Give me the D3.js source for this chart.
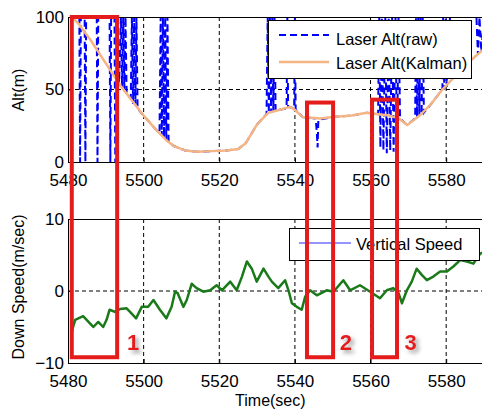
<!DOCTYPE html>
<html>
<head>
<meta charset="utf-8">
<script src="https://cdn.jsdelivr.net/npm/d3@7"></script>
<style>
  body { margin: 0; background: #fff; }
  text { font-family: 'Liberation Sans', Arial, sans-serif; }
</style>
</head>
<body>
<div id="svg_container"></div>
<script>
var width = 482
var height = 409

// x ticks (sec)
var timeTicks = [5480, 5500, 5520, 5540, 5560, 5580]
var altTicks = [0, 50, 100]
var speedTicks = [-10, 0, 10]

// laser altitude, raw reading (m)
var rawTime = [5480, 5483.0, 5483.2, 5483.4, 5484.4, 5484.6, 5484.8, 5487.6, 5487.8, 5488.0,
  5491.0, 5491.2, 5491.4, 5492.3, 5492.5, 5492.7, 5493.5, 5494.0, 5494.3, 5494.6,
  5494.9, 5495.2, 5495.5, 5496.0, 5496.6, 5496.9, 5497.2, 5497.5, 5497.8, 5498.1,
  5498.4, 5500, 5503, 5504.2, 5504.5, 5504.8, 5505.1, 5505.4, 5505.7, 5506.0,
  5506.3, 5506.6, 5508, 5511, 5514, 5518, 5522, 5525, 5527, 5530,
  5532.5, 5532.8, 5533.1, 5533.4, 5533.7, 5534.0, 5534.3, 5534.6, 5534.9, 5536,
  5537.8, 5538.0, 5538.2, 5539.8, 5540.0, 5540.2, 5542, 5545.5, 5545.8, 5546.0,
  5546.2, 5550, 5555, 5559, 5562, 5562.3, 5562.6, 5563.0, 5563.4, 5563.9,
  5564.3, 5564.8, 5565.2, 5565.7, 5566.1, 5566.6, 5567.0, 5567.4, 5567.8, 5569.7,
  5571.8, 5572.0, 5572.3, 5572.6, 5572.9, 5573.2, 5573.5, 5573.8, 5574.1, 5576,
  5579, 5579.2, 5579.5, 5579.9, 5580.2, 5581, 5588, 5588.4, 5588.8, 5589.3, 5590]
var rawAlt = [100, 100, 0, 100, 100, 0, 100, 100, 0, 100,
  100, 0, 100, 100, 0, 100, 54, 100, 51, 100,
  50, 100, 48, 46, 44, 100, 40, 100, 39, 100,
  37, 32, 23, 20, 100, 18, 100, 17, 100, 15,
  100, 14, 11, 8, 7, 7.5, 8, 9, 13, 26,
  33, 100, 34, 100, 34, 100, 35, 100, 35, 36,
  37, 100, 38, 37, 100, 36, 31, 30, 20, 10,
  29, 31, 32, 34, 33, 100, 10, 100, 8, 100,
  6, 100, 8, 100, 7, 100, 9, 100, 30, 25.5,
  30, 100, 31, 100, 32, 100, 33, 100, 34, 40,
  50, 100, 50, 100, 52, 100, 100, 74, 100, 76, 100]

// laser altitude, Kalman filtered (m)
var kalTime = [5481, 5482.6, 5486, 5490, 5493.8, 5497, 5500, 5503, 5506, 5508,
  5511, 5514, 5518, 5522, 5525, 5527, 5530, 5533, 5536, 5538.7,
  5540, 5542, 5546.7, 5550, 5555, 5559, 5562, 5565, 5567.5, 5569.7,
  5573, 5576, 5579, 5583, 5586, 5590]
var kalAlt = [100, 96, 84, 68, 53, 42, 32, 23, 15, 11,
  8, 7, 7.5, 8, 9, 13, 26, 34, 36, 38,
  36, 31, 30, 31, 32, 34, 33, 32, 30, 25.5,
  32, 40, 50, 61, 69, 78]

// vertical (down) speed (m/sec)
var spdTime = [5481, 5481.9, 5484, 5485.8, 5486.7, 5488, 5489.3, 5490.2, 5491, 5492.4,
  5493.8, 5495.5, 5496.4, 5498, 5499.5, 5501.2, 5502.6, 5504.3, 5506, 5507.4,
  5508.3, 5509, 5510.5, 5511.4, 5512.7, 5514, 5515.8, 5517.6, 5519.3, 5520.7,
  5522.9, 5524.6, 5526, 5527.3, 5528.6, 5529.9, 5531.7, 5533, 5533.9, 5535.6,
  5537.4, 5538.3, 5539.2, 5540.5, 5541.8, 5542.7, 5544, 5545.8, 5548.4, 5550.2,
  5552.8, 5554.6, 5557.2, 5559.9, 5562.5, 5564.3, 5566, 5567.4, 5568.3, 5569.6,
  5570.9, 5572.2, 5573.6, 5574.9, 5576.6, 5578.4, 5580.2, 5581.9, 5583.7, 5585.5,
  5587.2, 5589, 5590]
var spdVal = [-5.6, -4.0, -3.5, -4.5, -5.0, -4.3, -5.0, -4.0, -2.6, -2.9,
  -2.5, -2.4, -2.9, -3.8, -2.2, -2.2, -1.25, -2.6, -3.8, -2.2,
  -0.1, -0.3, -2.2, -1.25, 1.0, 0.4, -0.1, 0.1, 0.8, 0.1,
  1.3, 0.1, 2.0, 4.1, 3.1, 1.3, 3.1, 2.0, 1.3, 0.4,
  1.5, 0.1, -1.7, -2.2, -2.6, -0.8, 0.1, -0.6, 0.1, -0.1,
  1.5, 0.1, 0.8, -0.1, -1.0, 0.1, 0.4, -0.3, -1.7, 0.1,
  1.3, 3.1, 2.2, 1.5, 2.0, 2.7, 2.7, 3.4, 4.3, 4.1,
  3.8, 5.2, 5.4]

// highlighted windows: time span, top (alt), bottom (speed), label
var boxStart = [5481, 5543.2, 5560.4]
var boxEnd = [5493, 5550.1, 5567]
var boxTopAlt = [100, 41, 43]
var boxBottomSpeed = [-9.2, -9.2, -9.2]
var boxLabels = ['1', '2', '3']
var boxLabelTime = [5497.2, 5553.5, 5570.6]

var svg = d3.select('#svg_container')
  .append('svg')
    .attr('width', width)
    .attr('height', height)

var defs = svg.append('defs')
var shadow = defs.append('filter').attr('id', 'shadow')
  .attr('x', '-50%').attr('y', '-50%').attr('width', '200%').attr('height', '200%')
shadow.append('feDropShadow')
  .attr('dx', 3).attr('dy', 3).attr('stdDeviation', 2)
  .attr('flood-color', '#888').attr('flood-opacity', 0.8)

var x = d3.scaleLinear().domain([5480, 5590]).range([68, 484])
var yAlt = d3.scaleLinear().domain([0, 100]).range([162, 17])
var ySpd = d3.scaleLinear().domain([-10, 10]).range([363, 219])

function drawAxes(y, yTicks, clipId, yLabel, labelY) {
  var top = y.range()[1], bottom = y.range()[0]
  var left = x.range()[0], right = x.range()[1]

  svg.append('rect')
    .attr('x', left).attr('y', top)
    .attr('width', right - left).attr('height', bottom - top)
    .attr('fill', '#fff')

  defs.append('clipPath').attr('id', clipId)
    .append('rect')
      .attr('x', left).attr('y', top)
      .attr('width', right - left).attr('height', bottom - top)

  var grid = svg.append('g').attr('class', 'grid')
  grid.selectAll('.vgrid')
    .data(timeTicks.slice(1))
    .enter().append('line')
      .attr('x1', function(d) { return x(d) }).attr('x2', function(d) { return x(d) })
      .attr('y1', top).attr('y2', bottom)
  grid.selectAll('.hgrid')
    .data(yTicks.slice(1, -1))
    .enter().append('line')
      .attr('x1', left).attr('x2', right)
      .attr('y1', function(d) { return y(d) }).attr('y2', function(d) { return y(d) })
  grid.selectAll('line')
    .attr('stroke', '#000')
    .attr('stroke-width', 1)
    .attr('stroke-dasharray', '4,3')

  // x axis with inward ticks
  svg.append('g')
    .attr('transform', 'translate(0,' + bottom + ')')
    .call(d3.axisBottom(x).tickValues(timeTicks).tickSizeInner(-4).tickSizeOuter(0).tickPadding(8).tickFormat(d3.format('d')))
    .call(function(g) { g.select('.domain').remove() })
    .call(function(g) { g.selectAll('text').attr('fill', '#000').style('font-size', '17px').attr('dy', '0.92em') })
    .call(function(g) { g.selectAll('line').attr('stroke', '#000') })

  svg.append('g')
    .attr('transform', 'translate(' + left + ',0)')
    .call(d3.axisLeft(y).tickValues(yTicks).tickSizeInner(-4).tickSizeOuter(0).tickPadding(4))
    .call(function(g) { g.select('.domain').remove() })
    .call(function(g) { g.selectAll('text').attr('fill', '#000').style('font-size', '17px') })
    .call(function(g) { g.selectAll('line').attr('stroke', '#000') })

  svg.append('text')
    .attr('transform', 'translate(24,' + labelY + ') rotate(-90)')
    .attr('text-anchor', 'middle')
    .style('font-size', '16px')
    .text(yLabel)
}

function drawFrame(y) {
  var top = y.range()[1], bottom = y.range()[0]
  svg.append('rect')
    .attr('x', x.range()[0] + 0.5).attr('y', top + 0.5)
    .attr('width', x.range()[1] - x.range()[0]).attr('height', bottom - top)
    .attr('fill', 'none')
    .attr('stroke', '#000')
    .attr('stroke-width', 1)
}

// ---- top: altitude ----
drawAxes(yAlt, altTicks, 'clipTop', 'Alt(m)', 90)

var lineRaw = d3.line()
  .x(function(d) { return x(d[0]) })
  .y(function(d) { return yAlt(d[1]) })

var gTop = svg.append('g').attr('clip-path', 'url(#clipTop)')
gTop.append('path')
  .datum(d3.zip(rawTime, rawAlt))
  .attr('d', lineRaw)
  .attr('fill', 'none')
  .attr('stroke', '#0000ff')
  .attr('stroke-width', 2)
  .attr('stroke-dasharray', '7,4')

gTop.append('path')
  .datum(d3.zip(kalTime, kalAlt))
  .attr('d', lineRaw)
  .attr('fill', 'none')
  .attr('stroke', '#f4b582')
  .attr('stroke-width', 2.5)
  .attr('stroke-linejoin', 'round')

drawFrame(yAlt)

// legend (top)
var legTop = svg.append('g').attr('transform', 'translate(268,20)')
legTop.append('rect')
  .attr('x', 0.5).attr('y', 0.5).attr('width', 203).attr('height', 58)
  .attr('fill', '#fff').attr('stroke', '#000')
legTop.append('line')
  .attr('x1', 11).attr('x2', 61).attr('y1', 15).attr('y2', 15)
  .attr('stroke', '#0000ff').attr('stroke-width', 2).attr('stroke-dasharray', '7,4')
legTop.append('line')
  .attr('x1', 11).attr('x2', 61).attr('y1', 42).attr('y2', 42)
  .attr('stroke', '#f4b582').attr('stroke-width', 2.5)
legTop.append('text').attr('x', 68).attr('y', 25).style('font-size', '16.5px').text('Laser Alt(raw)')
legTop.append('text').attr('x', 68).attr('y', 49).style('font-size', '16.5px').text('Laser Alt(Kalman)')

// ---- bottom: down speed ----
drawAxes(ySpd, speedTicks, 'clipBot', 'Down Speed(m/sec)', 287)

var lineSpd = d3.line()
  .x(function(d) { return x(d[0]) })
  .y(function(d) { return ySpd(d[1]) })

svg.append('g').attr('clip-path', 'url(#clipBot)')
  .append('path')
    .datum(d3.zip(spdTime, spdVal))
    .attr('d', lineSpd)
    .attr('fill', 'none')
    .attr('stroke', '#1a7a1a')
    .attr('stroke-width', 2.5)
    .attr('stroke-linejoin', 'round')

drawFrame(ySpd)

var legBot = svg.append('g').attr('transform', 'translate(289,228)')
legBot.append('rect')
  .attr('x', 0.5).attr('y', 0.5).attr('width', 190).attr('height', 32)
  .attr('fill', '#fff').attr('stroke', '#000')
legBot.append('line')
  .attr('x1', 10).attr('x2', 62).attr('y1', 15).attr('y2', 15)
  .attr('stroke', '#2a2aff').attr('stroke-width', 1)
legBot.append('text').attr('x', 67).attr('y', 22).style('font-size', '16.5px').text('Vertical Speed')

svg.append('text')
  .attr('x', x(5533.5))
  .attr('y', 406)
  .attr('text-anchor', 'middle')
  .style('font-size', '16px')
  .text('Time(sec)')

// ---- red highlight boxes ----
var boxes = boxStart.map(function(s, i) {
  return {x0: s, x1: boxEnd[i], top: boxTopAlt[i], bottom: boxBottomSpeed[i], label: boxLabels[i], lx: boxLabelTime[i]}
})

svg.selectAll('.hlbox')
  .data(boxes)
  .enter().append('rect')
    .attr('class', 'hlbox')
    .attr('x', function(d) { return x(d.x0) })
    .attr('y', function(d) { return yAlt(d.top) })
    .attr('width', function(d) { return x(d.x1) - x(d.x0) })
    .attr('height', function(d) { return ySpd(d.bottom) - yAlt(d.top) })
    .attr('fill', 'none')
    .attr('stroke', '#e41c1c')
    .attr('stroke-width', 4)

svg.selectAll('.hllabel')
  .data(boxes)
  .enter().append('text')
    .attr('class', 'hllabel')
    .attr('x', function(d) { return x(d.lx) })
    .attr('y', ySpd(-8.2))
    .attr('text-anchor', 'middle')
    .attr('fill', '#e41c1c')
    .attr('filter', 'url(#shadow)')
    .style('font-size', '22px')
    .style('font-weight', 'bold')
    .text(function(d) { return d.label })
</script>
</body>
</html>
